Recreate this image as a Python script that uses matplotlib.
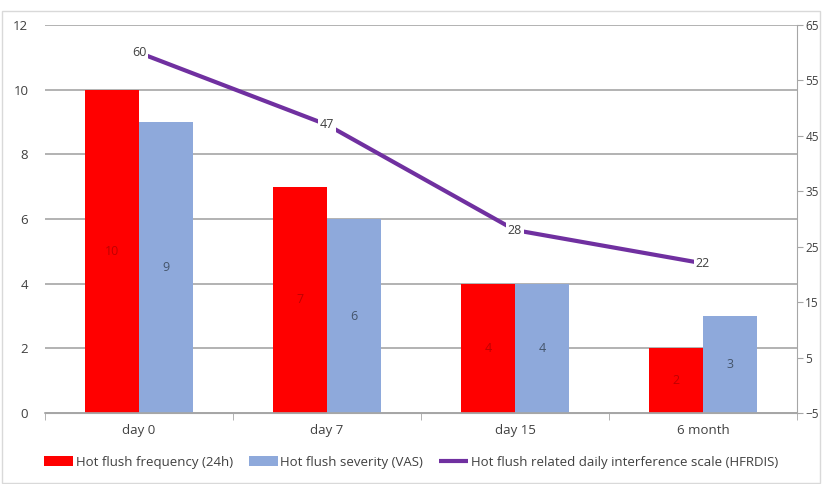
import numpy as np
import matplotlib.pyplot as plt
from matplotlib.patches import Rectangle

plt.rcParams['font.family'] = ['Open Sans', 'DejaVu Sans']
plt.rcParams['font.size'] = 9.5

categories = ['day 0', 'day 7', 'day 15', '6 month']
frequency = [10, 7, 4, 2]
severity = [9, 6, 4, 3]
hfrdis = [60, 47, 28, 22]

red = '#FF0000'
blue = '#8EA9DB'
purple = '#7030A0'
grid_c = '#A6A6A6'
text_c = '#404040'

fig = plt.figure(figsize=(8.22, 4.84), dpi=100)
ax = fig.add_axes([45/822, 71/484, 752/822, 388/484])
ax2 = ax.twinx()

x = np.arange(len(categories))
w = 0.287
b1 = ax.bar(x - w/2, frequency, w, color=red, label='Hot flush frequency (24h)', zorder=2)
b2 = ax.bar(x + w/2, severity, w, color=blue, label='Hot flush severity (VAS)', zorder=2)

for xi, v in zip(x, frequency):
    ax.text(xi - w/2, v/2, str(v), ha='center', va='center', color='#C00000', fontsize=9, zorder=3)
for xi, v in zip(x, severity):
    ax.text(xi + w/2, v/2, str(v), ha='center', va='center', color='#44546A', fontsize=9, zorder=3)

ax.set_ylim(0, 12)
ax.set_yticks(range(0, 13, 2))
ax.set_xlim(-0.5, 3.5)
ax.set_xticks(x)
ax.set_xticklabels(categories)
ax.set_xticks(np.arange(-0.5, 4, 1), minor=True)
ax.tick_params(axis='x', which='major', length=0, pad=8, colors=text_c)
ax.tick_params(axis='x', which='minor', length=5, color=grid_c)
ax.tick_params(axis='y', length=0, pad=12, colors=text_c)
ax.yaxis.grid(True, color=grid_c, lw=1.2, zorder=0)
ax.set_axisbelow(True)

ln, = ax2.plot(x, hfrdis, color=purple, lw=3, solid_capstyle='butt',
               label='Hot flush related daily interference scale (HFRDIS)', zorder=3)
for xi, v in zip(x, hfrdis):
    ax2.text(xi, v, str(v), ha='center', va='center', color=text_c, fontsize=9,
             bbox=dict(facecolor='white', edgecolor='none', pad=1.5), zorder=4)
ax2.set_ylim(-5, 65)
ax2.set_yticks(range(-5, 66, 10))
ax2.tick_params(axis='y', length=4, pad=2, colors=text_c, labelsize=8.5)
ax2.tick_params(axis='y', color=grid_c)

for a in (ax, ax2):
    for s in ('top', 'left'):
        a.spines[s].set_visible(False)
    a.spines['right'].set_visible(False)
    a.spines['bottom'].set_color(grid_c)
ax2.spines['right'].set_visible(True)
ax2.spines['right'].set_color(grid_c)
ax.spines['bottom'].set_linewidth(1.2)

fig.legend(handles=[b1, b2, ln], loc='center', bbox_to_anchor=(0.5, 21/484 + 0.002),
           ncol=3, frameon=False, handlelength=2.2, handletextpad=0.2, columnspacing=1.2,
           fontsize=9.5, labelcolor=text_c)

fig.patches.append(Rectangle((0.003, 0.003), 0.994, 0.975, transform=fig.transFigure,
                             fill=False, edgecolor='#D9D9D9', lw=1))

fig.savefig('out.png', dpi=100)
